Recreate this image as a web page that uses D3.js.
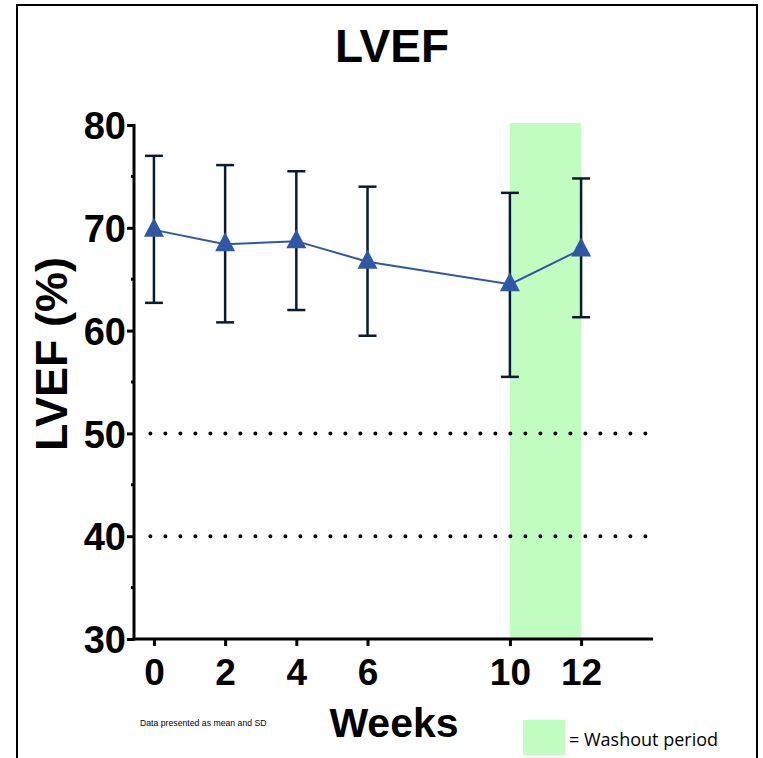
<!DOCTYPE html>
<html>
<head>
<meta charset="utf-8">
<script src="https://d3js.org/d3.v7.min.js"></script>
<style>
body { margin: 0; background: #fff; }
svg { display: block; }
</style>
</head>
<body>
<script>
var weeks = [0, 2, 4, 6, 10, 12]
var means = [69.8, 68.4, 68.7, 66.7, 64.5, 67.9]
var upper = [77.0, 76.1, 75.5, 74.0, 73.4, 74.8]
var lower = [62.7, 60.8, 62.0, 59.5, 55.5, 61.3]
var xTicks = [0, 2, 4, 6, 10, 12]
var yTicks = [30, 40, 50, 60, 70, 80]
var yMinor = [35, 45, 55, 65, 75]
var refLines = [50, 40]
var washout = [10, 12]

var W = 763, H = 758
var FONT = "Liberation Sans, Arial, sans-serif"
var svg = d3.select("body").append("svg").attr("width", W).attr("height", H)

// outer frame (open at the bottom)
svg.append("path")
    .attr("d", "M17,758 V5 H757 V758")
    .attr("fill", "none").attr("stroke", "#000").attr("stroke-width", 2)

var x = d3.scaleLinear().domain([-0.56, 14.02]).range([134, 653])
var y = d3.scaleLinear().domain([30, 80]).range([639, 125])

// washout band
svg.append("rect")
    .attr("x", x(washout[0])).attr("y", y(80.2))
    .attr("width", x(washout[1]) - x(washout[0]))
    .attr("height", y(30) - y(80.2))
    .attr("fill", "#c1fdc1")

// dotted reference lines
refLines.forEach(function(v) {
    svg.append("line")
        .attr("x1", x(-0.1)).attr("x2", x(14.02))
        .attr("y1", y(v)).attr("y2", y(v))
        .attr("stroke", "#000").attr("stroke-width", 4)
        .attr("stroke-linecap", "round")
        .attr("stroke-dasharray", "0,15")
})

// y axis
var yAxis = svg.append("g").attr("transform", "translate(134,0)")
    .call(d3.axisLeft(y).tickValues(yTicks).tickSize(7).tickPadding(1))
yAxis.select(".domain").attr("stroke-width", 3).attr("d", "M0," + (y(80) - 1) + "V" + (y(30) + 1.5))
yAxis.selectAll(".tick line").attr("stroke-width", 3)
yAxis.selectAll("text")
    .style("font-family", FONT)
    .style("font-weight", "bold").style("font-size", "38px").attr("fill", "#000")
    .attr("dy", "0.36em")
yMinor.forEach(function(v) {
    svg.append("line").attr("x1", 131).attr("x2", 134)
        .attr("y1", y(v)).attr("y2", y(v))
        .attr("stroke", "#000").attr("stroke-width", 3)
})

// x axis
var xAxis = svg.append("g").attr("transform", "translate(0,639)")
    .call(d3.axisBottom(x).tickValues(xTicks).tickSize(7))
xAxis.select(".domain").attr("stroke-width", 3).attr("d", "M132.5,0H653")
xAxis.selectAll(".tick line").attr("stroke-width", 3)
xAxis.selectAll("text")
    .style("font-family", FONT)
    .style("font-weight", "bold").style("font-size", "37px").attr("fill", "#000")
    .attr("y", 46).attr("dy", 0)

// error bars
var navy = "#0b1a33"
weeks.forEach(function(w, i) {
    var g = svg.append("g").attr("stroke", navy).attr("stroke-width", 2.5)
    g.append("line").attr("x1", x(w)).attr("x2", x(w)).attr("y1", y(upper[i])).attr("y2", y(lower[i]))
    g.append("line").attr("x1", x(w) - 9).attr("x2", x(w) + 9).attr("y1", y(upper[i])).attr("y2", y(upper[i]))
    g.append("line").attr("x1", x(w) - 9).attr("x2", x(w) + 9).attr("y1", y(lower[i])).attr("y2", y(lower[i]))
})

// mean line
var blue = "#2f57a5"
var pts = weeks.map(function(w, i) { return [w, means[i]] })
svg.append("path")
    .attr("d", d3.line().x(function(d) { return x(d[0]) }).y(function(d) { return y(d[1]) })(pts))
    .attr("fill", "none").attr("stroke", blue).attr("stroke-width", 2)

// triangle markers
svg.selectAll(".tri").data(pts).enter().append("path")
    .attr("class", "tri")
    .attr("transform", function(d) { return "translate(" + x(d[0]) + "," + (y(d[1]) - 1) + ")" })
    .attr("d", "M0,-11 L10,8 L-10,8 Z")
    .attr("fill", blue)

// title and axis labels
svg.append("text").attr("x", 392).attr("y", 62).attr("text-anchor", "middle")
    .style("font-family", FONT)
    .style("font-weight", "bold").style("font-size", "46px")
    .text("LVEF")

svg.append("text")
    .attr("transform", "translate(67,354) rotate(-90)")
    .attr("text-anchor", "middle")
    .style("font-family", FONT)
    .style("font-weight", "bold").style("font-size", "45px")
    .text("LVEF (%)")

svg.append("text").attr("x", 394).attr("y", 737).attr("text-anchor", "middle")
    .style("font-family", FONT)
    .style("font-weight", "bold").style("font-size", "41px")
    .text("Weeks")

svg.append("text").attr("x", 140).attr("y", 726)
    .style("font-family", FONT)
    .style("font-size", "8.7px")
    .text("Data presented as mean and SD")

// legend
svg.append("rect").attr("x", 523).attr("y", 720).attr("width", 42).attr("height", 35)
    .attr("fill", "#c1fdc1")
svg.append("text").attr("x", 569).attr("y", 746)
    .style("font-family", "Open Sans, sans-serif")
    .style("font-size", "18px")
    .text("= Washout period")
</script>
</body>
</html>
